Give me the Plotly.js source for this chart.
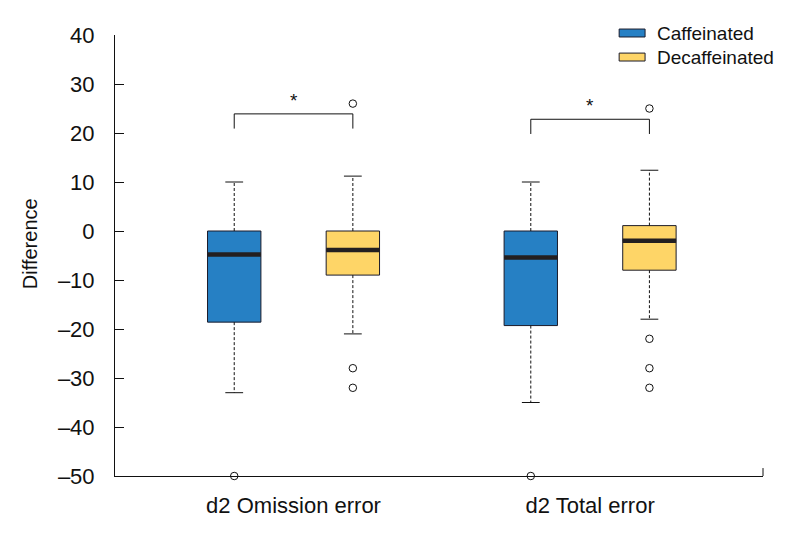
<!DOCTYPE html>
<html>
<head>
<meta charset="utf-8">
<script src="https://cdn.plot.ly/plotly-3.0.1.min.js"></script>
<style>html,body{margin:0;padding:0;background:#fff;}#chart{width:800px;height:539px;}</style>
</head>
<body>
<div id="chart"></div>
<script>
// ---- data ----
const categories = ['d2 Omission error', 'd2 Total error'];
const seriesNames = ['Caffeinated', 'Decaffeinated'];

const caffQ1 = [-18.6, -19.3];
const caffMedian = [-4.8, -5.4];
const caffQ3 = [0, 0];
const caffLowerWhisker = [-33, -35];
const caffUpperWhisker = [10, 10];
const caffOutliers = [[-50], [-50]];

const decafQ1 = [-9, -8];
const decafMedian = [-3.9, -2];
const decafQ3 = [0, 1.1];
const decafLowerWhisker = [-21, -18];
const decafUpperWhisker = [11.2, 12.4];
const decafOutliers = [[26, -28, -32], [25, -22, -28, -32]];

const sigLabels = ['*', '*'];

const yTickVals = [40, 30, 20, 10, 0, -10, -20, -30, -40, -50];
const yTickText = ['40', '30', '20', '10', '0', '\u201310', '\u201320', '\u201330', '\u201340', '\u201350'];
const yTitle = 'Difference';

// ---- styling / layout helpers ----
const FONT = 'Liberation Sans, Arial, sans-serif';
const colors = ['#2680c4', '#fed567'];
const offsets = [-0.2, 0.2];
const boxW = 0.18;
const capHalf = 0.03;
const outline = '#1b1b2a';

const groups = [
  {q1: caffQ1, med: caffMedian, q3: caffQ3, lo: caffLowerWhisker, hi: caffUpperWhisker, out: caffOutliers},
  {q1: decafQ1, med: decafMedian, q3: decafQ3, lo: decafLowerWhisker, hi: decafUpperWhisker, out: decafOutliers}
];

const traces = [];
groups.forEach((g, gi) => {
  const xs = categories.map((c, ci) => ci + offsets[gi]);
  traces.push({
    type: 'box', name: seriesNames[gi], x: xs,
    q1: g.q1, median: g.med, q3: g.q3, lowerfence: g.q1, upperfence: g.q3,
    width: boxW, whiskerwidth: 0, fillcolor: colors[gi], showlegend: false,
    line: {color: outline, width: 1}, boxpoints: false, hoverinfo: 'skip'
  });
});
groups.forEach((g, gi) => {
  const xs = categories.map((c, ci) => ci + offsets[gi]);
  // dashed whiskers
  const wx = [], wy = [];
  xs.forEach((x, i) => { wx.push(x, x, null, x, x, null); wy.push(g.q3[i], g.hi[i], null, g.q1[i], g.lo[i], null); });
  traces.push({type: 'scatter', mode: 'lines', x: wx, y: wy, showlegend: false, hoverinfo: 'skip',
    line: {color: '#111', width: 1, dash: '3px,2px'}});
  // caps
  const cx = [], cy = [];
  xs.forEach((x, i) => { cx.push(x - capHalf, x + capHalf, null, x - capHalf, x + capHalf, null); cy.push(g.hi[i], g.hi[i], null, g.lo[i], g.lo[i], null); });
  traces.push({type: 'scatter', mode: 'lines', x: cx, y: cy, showlegend: false, hoverinfo: 'skip',
    line: {color: '#111', width: 1}});
  // thick medians
  const mx = [], my = [];
  xs.forEach((x, i) => { mx.push(x - boxW / 2, x + boxW / 2, null); my.push(g.med[i], g.med[i], null); });
  traces.push({type: 'scatter', mode: 'lines', x: mx, y: my, showlegend: false, hoverinfo: 'skip',
    line: {color: '#231f20', width: 4.5}});
  // outliers
  const ox = [], oy = [];
  xs.forEach((x, i) => g.out[i].forEach(v => { ox.push(x); oy.push(v); }));
  traces.push({type: 'scatter', mode: 'markers', x: ox, y: oy, showlegend: false, hoverinfo: 'skip', cliponaxis: false,
    marker: {symbol: 'circle-open', size: 7.5, color: '#111', line: {width: 1}}});
});

// significance brackets
const bracketTop = [23.9, 22.8];
const bracketDrop = 3;
const shapes = [];
const annotations = [];
categories.forEach((c, ci) => {
  const x0 = ci + offsets[0], x1 = ci + offsets[1], yt = bracketTop[ci];
  shapes.push({type: 'path', xref: 'x', yref: 'y',
    path: `M${x0},${yt - bracketDrop} L${x0},${yt} L${x1},${yt} L${x1},${yt - bracketDrop}`,
    line: {color: '#111', width: 1}});
  annotations.push({x: ci, y: yt, xref: 'x', yref: 'y', text: sigLabels[ci], showarrow: false,
    yanchor: 'bottom', yshift: 1, font: {family: FONT, size: 19, color: '#111'}});
});
// right end tick of x axis
shapes.push({type: 'line', xref: 'paper', yref: 'paper', x0: 1, x1: 1, y0: 0, y1: 0.018, line: {color: '#111', width: 1}});

// legend (swatches + labels)
const legendY = [1.0045, 0.950];
seriesNames.forEach((n, i) => {
  shapes.push({type: 'rect', xref: 'paper', yref: 'paper', x0: 0.778, x1: 0.818,
    y0: legendY[i] - 0.009, y1: legendY[i] + 0.009, fillcolor: colors[i], line: {color: outline, width: 1}});
  annotations.push({xref: 'paper', yref: 'paper', x: 0.833, y: legendY[i], xanchor: 'left', yanchor: 'middle',
    text: n, showarrow: false, font: {family: FONT, size: 19, color: '#111'}});
});

// y-axis title
annotations.push({xref: 'paper', yref: 'paper', x: -0.131, y: 0.526, xanchor: 'center', yanchor: 'middle',
  textangle: -90, text: yTitle, showarrow: false, font: {family: FONT, size: 20, color: '#111'}});

const layout = {
  width: 800, height: 539,
  margin: {l: 115, r: 37, t: 35, b: 63},
  paper_bgcolor: '#fff', plot_bgcolor: '#fff',
  font: {family: FONT, color: '#111'},
  showlegend: false,
  xaxis: {range: [-0.602, 1.583], tickvals: [0, 1], ticktext: categories, ticks: '', showline: true,
    linecolor: '#111', linewidth: 1, showgrid: false, zeroline: false, ticklabelstandoff: 10,
    tickfont: {family: FONT, size: 22, color: '#111'}},
  yaxis: {range: [-50, 40], tickvals: yTickVals, ticktext: yTickText, ticks: 'inside', ticklen: 9,
    tickcolor: '#111', showline: true, linecolor: '#111', linewidth: 1, showgrid: false, zeroline: false,
    ticklabelstandoff: 15,
    tickfont: {family: FONT, size: 22, color: '#111'}},
  shapes: shapes,
  annotations: annotations
};

Plotly.newPlot('chart', traces, layout, {displayModeBar: false, staticPlot: true});
</script>
</body>
</html>
